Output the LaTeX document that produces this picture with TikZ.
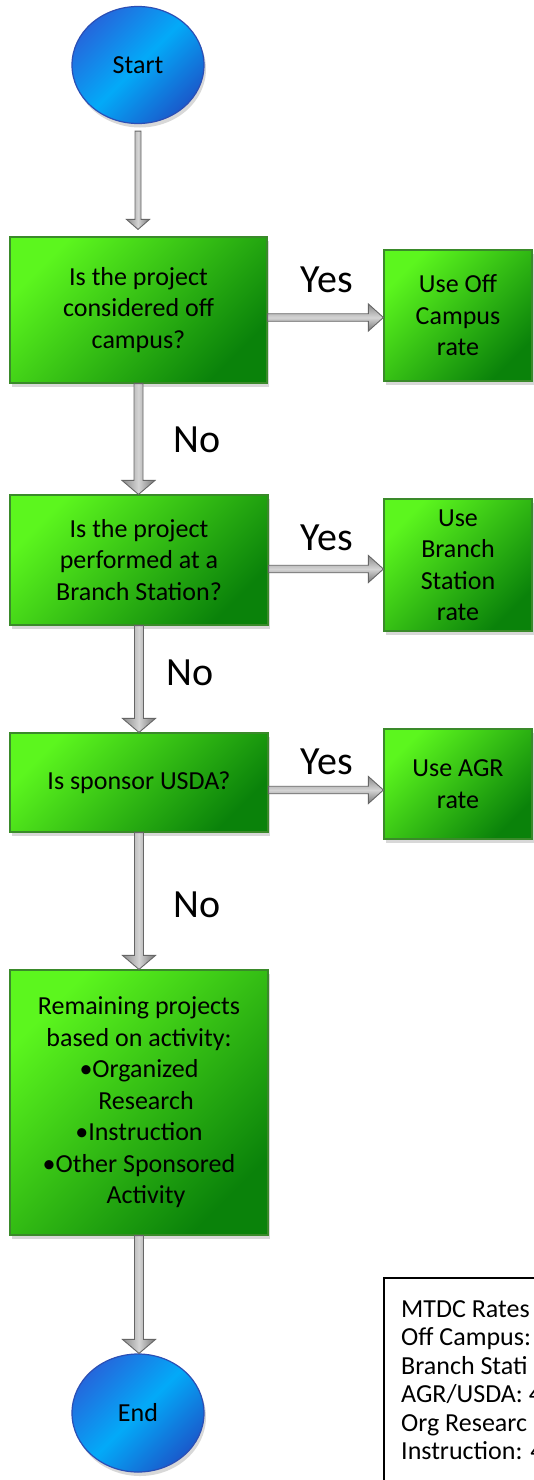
\documentclass[tikz,border=0pt]{standalone}
\usepackage{fontspec}
\setmainfont{Carlito}
\usetikzlibrary{shapes.geometric,shadows,calc}
\definecolor{limeg}{HTML}{5CF61E}
\definecolor{darkg}{HTML}{0A820A}
\definecolor{edgeg}{HTML}{3A8A2A}
\definecolor{blueA}{HTML}{2468DC}
\definecolor{blueB}{HTML}{03AAF8}
\definecolor{blueC}{HTML}{1A5ACB}
\definecolor{blueE}{HTML}{2B4FB5}
\definecolor{arrE}{HTML}{666666}
\definecolor{arrL}{HTML}{D4D4D4}
\definecolor{arrD}{HTML}{8A8A8A}
\newcommand\boxfont{\fontsize{26}{31.5}\selectfont}
\newcommand\lblfont{\fontsize{40}{48}\selectfont}
\newcommand\legfont{\fontsize{26}{28.5}\selectfont}
\tikzset{
  gbox/.style={rectangle, draw=edgeg, line width=1.2pt, top color=limeg, bottom color=darkg,
    shading angle=45, drop shadow={opacity=0.3, shadow xshift=2pt, shadow yshift=-4pt},
    inner sep=0pt, align=center, font=\boxfont, text=black},
  bcirc/.style={ellipse, draw=blueE, line width=1.2pt, top color=blueA, bottom color=blueC,
    middle color=blueB, shading angle=45, drop shadow={opacity=0.3, shadow xshift=2pt, shadow yshift=-4pt},
    inner sep=0pt, font=\boxfont, text=black, minimum width=132pt, minimum height=117pt},
  lbl/.style={font=\lblfont, inner sep=0pt, text=black},
  blkv/.style={draw=arrE, line width=0.9pt, left color=arrD, right color=arrD!85!black, middle color=arrL},
  blkh/.style={draw=arrE, line width=0.9pt, top color=arrD, bottom color=arrD!85!black, middle color=arrL},
  legbox/.style={draw=black, line width=1.5pt, fill=white},
}
% #2 from, #3 to, #4 half shaft, #5 half head, #6 head length
\newcommand\blkdown[6][]{%
  \shadedraw[blkv,#1] let \p1=(#2), \p2=(#3) in
  (\x1-#4pt,\y1) -- (\x1+#4pt,\y1) -- (\x1+#4pt,\y2+#6pt) -- (\x1+#5pt,\y2+#6pt) --
  (\x1,\y2) -- (\x1-#5pt,\y2+#6pt) -- (\x1-#4pt,\y2+#6pt) -- cycle;}
\newcommand\blkright[6][]{%
  \shadedraw[blkh,#1] let \p1=(#2), \p2=(#3) in
  (\x1,\y2+#4pt) -- (\x2-#6pt,\y2+#4pt) -- (\x2-#6pt,\y2+#5pt) -- (\x2,\y2) --
  (\x2-#6pt,\y2-#5pt) -- (\x2-#6pt,\y2-#4pt) -- (\x1,\y2-#4pt) -- cycle;}
\begin{document}
\begin{tikzpicture}[x=1pt,y=-1pt]
\path[use as bounding box] (0,0) rectangle (534,1480);
\fill[white] (0,0) rectangle (534,1480);
\clip (0,0) rectangle (534,1480);

\node[bcirc] (start) at (138,65) {Start};

\node[gbox, minimum width=257pt, minimum height=146pt] (q1) at (138.5,310) {Is the project\\considered off\\campus?};
\node[gbox, minimum width=148pt, minimum height=131pt] (r1) at (458,315.5) {Use Off\\Campus\\rate};

\node[gbox, minimum width=258pt, minimum height=130pt] (q2) at (139,560) {Is the project\\performed at a\\Branch Station?};
\node[gbox, minimum width=148pt, minimum height=132pt] (r2) at (458,565) {Use\\Branch\\Station\\rate};

\node[gbox, minimum width=258pt, minimum height=99pt] (q3) at (139,782.5) {Is sponsor USDA?};
\node[gbox, minimum width=148pt, minimum height=110pt] (r3) at (458,784) {Use AGR\\rate};

\node[gbox, minimum width=258pt, minimum height=265pt] (q4) at (139,1102.5) {Remaining projects\\based on activity:\\\textbullet Organized\\\hspace*{14pt}Research\\\textbullet Instruction\\\textbullet Other Sponsored\\\hspace*{14pt}Activity};

\node[bcirc, minimum height=118pt] (end) at (138,1413) {End};

% connectors
\blkdown{[yshift=-7pt]start.south}{[yshift=7pt]q1.north}{3}{11.5}{10}
\blkdown{q1.south}{q2.north}{4.5}{16.5}{14}
\blkdown{q2.south}{q3.north}{4.5}{16.5}{14}
\blkdown{q3.south}{q4.north}{4.5}{16.5}{14}
\blkdown{q4.south}{end.north}{4.5}{16.5}{14}
\blkright{q1.east}{[yshift=-2pt]r1.west}{3.75}{13.5}{15}
\blkright{q2.east}{[yshift=-4pt]r2.west}{3.75}{13.5}{15}
\blkright{q3.east}{[yshift=-6pt]r3.west}{3.75}{13.5}{15}

% labels
\node[lbl] (yes1) at (327,280) {Yes};
\node[lbl] (yes2) at (327,538) {Yes};
\node[lbl] (yes3) at (327,762) {Yes};
\node[lbl] (no1) at (197,440) {No};
\node[lbl] (no2) at (190,673) {No};
\node[lbl] (no3) at (197,905) {No};

% legend
\draw[legbox] (384,1278) rectangle (600,1520);
\node[anchor=north west, inner sep=0pt, align=left, font=\legfont, text=black] (leg) at (401,1300)
  {MTDC Rates\\Off Campus:\\Branch Stati\\AGR/USDA: 4\\Org Researc\\Instruction: 4};
\end{tikzpicture}
\end{document}
